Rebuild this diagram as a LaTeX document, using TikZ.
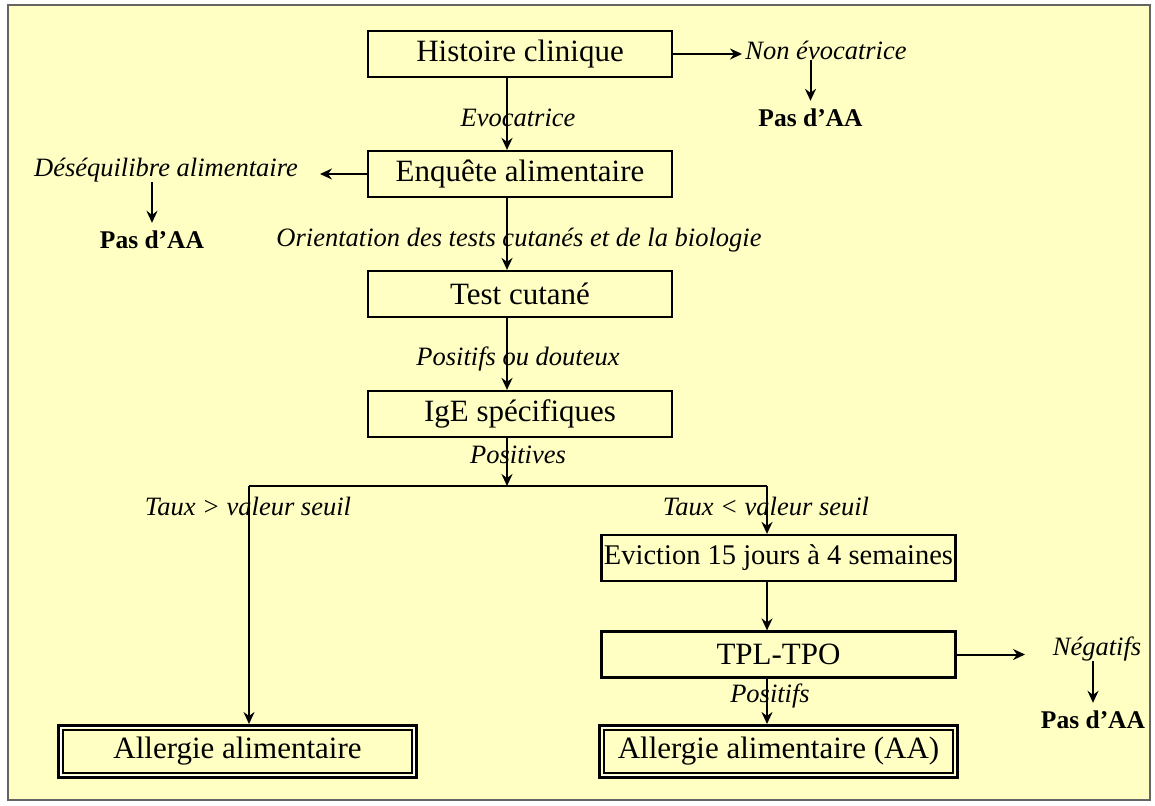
\documentclass[tikz,border=0pt]{standalone}
\usepackage{fontspec}
\setmainfont{Liberation Serif}
\usetikzlibrary{arrows.meta,calc}
\definecolor{bgyellow}{RGB}{255,255,196}
\definecolor{framegray}{RGB}{100,100,100}
\begin{document}
\begin{tikzpicture}[x=1pt,y=-1pt,
  box/.style={draw,line width=2.2pt,minimum width=304pt,minimum height=46pt,inner sep=0pt,font=\fontsize{31}{33}\selectfont},
  wbox/.style={box,minimum width=354pt},
  dbox/.style={draw,line width=4pt,minimum width=357pt,minimum height=51pt,inner sep=0pt,font=\fontsize{31}{33}\selectfont},
  lab/.style={inner sep=0pt,font=\fontsize{26.5}{28}\selectfont\itshape},
  res/.style={inner sep=0pt,font=\fontsize{25.5}{28}\selectfont\bfseries},
  arr/.style={line width=2pt,-{Stealth[length=12pt,width=11pt,inset=4pt]}},
  ln/.style={line width=2pt}]
\useasboundingbox (0,0) rectangle (1155,805);
\fill[white] (0,0) rectangle (1155,805);
\draw[framegray,line width=2.4pt,fill=bgyellow] (8,5) rectangle (1150,800);

% main boxes
\node[box] (hist) at (520,54) {Histoire clinique};
\node[box] (enq)  at (520,174) {Enquête alimentaire};
\node[box] (test) at (520,294) {Test cutané};
\node[box] (ige)  at (520,414) {IgE spécifiques};
\node[wbox,font=\fontsize{28.5}{30}\selectfont] (evic) at (778.5,558) {Eviction 15 jours à 4 semaines};
\node[wbox] (tpl)  at (778.5,654.5) {TPL-TPO};
\node[dbox] (aaL) at (237.5,751.5) {Allergie alimentaire};
\node[dbox] (aaR) at (778.5,751.5) {Allergie alimentaire (AA)};
\foreach \n in {aaL,aaR}{
  \draw[white,line width=1.4pt] ($(\n.south west)+(3.5,-3.5)$) rectangle ($(\n.north east)+(-3.5,3.5)$);
  \draw[black,line width=2pt] ($(\n.south west)+(5.7,-5.7)$) rectangle ($(\n.north east)+(-5.7,5.7)$);
}

% labels
\node[lab] (nonevo) at (826,50) {Non évocatrice};
\node[res] (pas1) at (810.5,118) {Pas d’AA};
\node[lab] (evo) at (518,118) {Evocatrice};
\node[lab] (desq) at (166,170) {Déséquilibre alimentaire};
\node[res] (pas2) at (152,240) {Pas d’AA};
\node[lab] (orient) at (519,240) {Orientation des tests cutanés et de la biologie};
\node[lab] (posdout) at (518,359) {Positifs ou douteux};
\node[lab] (posv) at (518,455) {Positives};
\node[lab] (tauxG) at (248,506) {Taux > valeur seuil};
\node[lab] (tauxD) at (766,506) {Taux < valeur seuil};
\node[lab] (posf) at (770,696) {Positifs};
\node[lab] (nega) at (1097,649) {Négatifs};
\node[res] (pas3) at (1093,720) {Pas d’AA};

% helper coordinates
\coordinate (sp) at (507,0);
\coordinate (spL) at (249,486);
\coordinate (split) at (507,486);
\coordinate (spR) at (767,486);
\coordinate (desqtip) at (320,0);
\coordinate (nonevotip) at (742,0);
\coordinate (negatip) at (1025,0);

% connectors
\draw[arr] (hist.south -| sp) -- (enq.north -| sp);
\draw[arr] (enq.south -| sp) -- (test.north -| sp);
\draw[arr] (test.south -| sp) -- (ige.north -| sp);
\draw[arr] (ige.south -| sp) -- (split);
\draw[ln] (spL) -- (spR);
\draw[arr] (spL) -- (aaL.north -| spL);
\draw[arr] (spR) -- (evic.north -| spR);
\draw[arr] (evic.south -| spR) -- (tpl.north -| spR);
\draw[arr] (tpl.south -| spR) -- (aaR.north -| spR);

\draw[arr] (hist.east) -- (hist.east -| nonevotip);
\draw[arr] (enq.west) -- (enq.west -| desqtip);
\draw[arr] (tpl.east) -- (tpl.east -| negatip);

\draw[arr,shorten >=8pt] (nonevo.south -| pas1.north) -- (pas1.north);
\draw[arr,shorten >=8pt] (desq.south -| pas2.north) -- (pas2.north);
\draw[arr,shorten >=8pt] (nega.south -| pas3.north) -- (pas3.north);
\end{tikzpicture}
\end{document}
